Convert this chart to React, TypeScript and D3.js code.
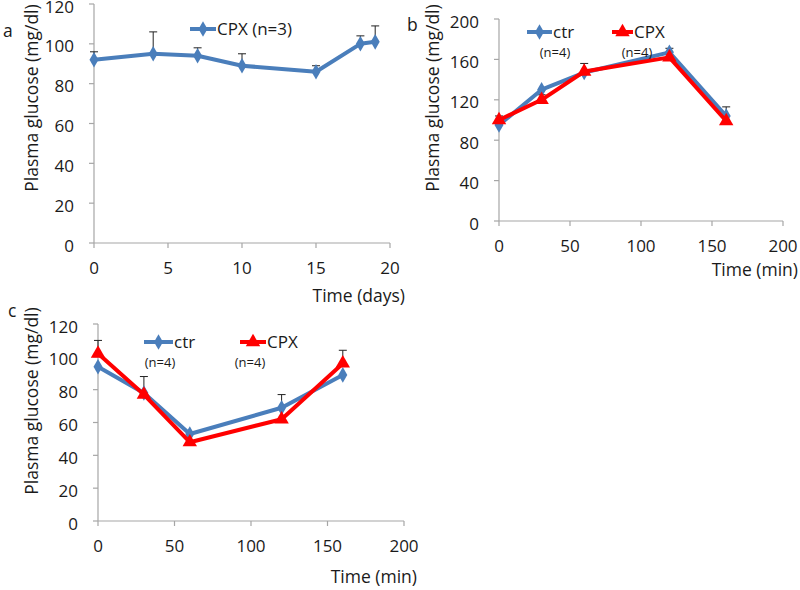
import React from "react";
import * as d3 from "d3";

// ---- Data ----
const daysA = [0, 4, 7, 10, 15, 18, 19];
const cpxA = [92, 95, 94, 89, 86, 100, 101];
const cpxAErr = [4, 11, 4, 6, 3, 4, 8];

const timesB = [0, 30, 60, 120, 160];
const ctrB = [95, 130, 147, 167, 104];
const ctrBErr = [0, 0, 0, 4, 9];
const cpxB = [100, 120, 148, 162, 99];
const cpxBErr = [4, 5, 8, 0, 0];

const timesC = [0, 30, 60, 120, 160];
const ctrC = [94, 78, 53, 69, 89];
const ctrCErr = [0, 10, 0, 8, 0];
const cpxC = [102, 77, 48, 62, 96];
const cpxCErr = [8, 0, 0, 0, 8];

const yTicksA = [0, 20, 40, 60, 80, 100, 120];
const xTicksA = [0, 5, 10, 15, 20];
const yTicksB = [0, 40, 80, 120, 160, 200];
const xTicksB = [0, 50, 100, 150, 200];
const yTicksC = [0, 20, 40, 60, 80, 100, 120];
const xTicksC = [0, 50, 100, 150, 200];

const yTitle = "Plasma glucose (mg/dl)";

const BLUE = "#4A7EBB";
const RED = "#FF0000";
const AXIS = "#A6A6A6";
const FONT = "'Open Sans', Lato, sans-serif";
const TEXT = "#1a1a1a";
const FS = 17;
const FT = 17.5;

type Series = { x: number[]; y: number[]; err: number[]; color: string; kind: "diamond" | "triangle" };

function Marker({ kind, x, y, color }: { kind: string; x: number; y: number; color: string }) {
  const sym = kind === "diamond" ? d3.symbol().type(d3.symbolDiamond).size(70) : d3.symbol().type(d3.symbolTriangle).size(90);
  return <path d={sym() as string} transform={`translate(${x},${y})`} fill={color} />;
}

function Panel(props: {
  xr: [number, number]; yr: [number, number]; xd: [number, number]; yd: [number, number];
  xTicks: number[]; yTicks: number[]; series: Series[]; xTitle: string; xTitleX: number; xTitleY: number;
  yTitleX: number; yTitleY: number; letter: string; letterX: number; letterY: number;
}) {
  const x = d3.scaleLinear().domain(props.xd).range(props.xr);
  const y = d3.scaleLinear().domain(props.yd).range(props.yr);
  const line = d3.line<[number, number]>().x(d => x(d[0])).y(d => y(d[1]));
  const [x0, x1] = props.xr;
  const [y0, y1] = props.yr;
  return (
    <g fontFamily={FONT}>
      <line x1={x0} x2={x0} y1={y0} y2={y1} stroke={AXIS} strokeWidth={1.2} />
      <line x1={x0} x2={x1} y1={y0} y2={y0} stroke={AXIS} strokeWidth={1.2} />
      {props.yTicks.map(t => (
        <g key={"y" + t}>
          <line x1={x0 - 5} x2={x0} y1={y(t)} y2={y(t)} stroke={AXIS} strokeWidth={1.2} />
          <text x={x0 - 20} y={y(t) + 8.5} textAnchor="end" fontSize={FS} fill={TEXT}>{t}</text>
        </g>
      ))}
      {props.xTicks.map(t => (
        <g key={"x" + t}>
          <line x1={x(t)} x2={x(t)} y1={y0} y2={y0 + 5} stroke={AXIS} strokeWidth={1.2} />
          <text x={x(t)} y={y0 + 31} textAnchor="middle" fontSize={FS} fill={TEXT}>{t}</text>
        </g>
      ))}
      <text x={props.xTitleX} y={props.xTitleY} textAnchor="end" fontSize={FT} fill={TEXT}>{props.xTitle}</text>
      <text transform={`translate(${props.yTitleX},${props.yTitleY}) rotate(-90)`} textAnchor="middle" fontSize={FT} fill={TEXT} dy="0.35em">{yTitle}</text>
      <text x={props.letterX} y={props.letterY} fontSize={FT} fill={TEXT}>{props.letter}</text>
      {props.series.map((s, si) => (
        <g key={"e" + si}>
          {s.x.map((xv, i) => s.err[i] > 0 ? (
            <g key={i}>
              <line x1={x(xv)} x2={x(xv)} y1={y(s.y[i])} y2={y(s.y[i] + s.err[i])} stroke="#222" strokeWidth={1} />
              <line x1={x(xv) - 4} x2={x(xv) + 4} y1={y(s.y[i] + s.err[i])} y2={y(s.y[i] + s.err[i])} stroke="#222" strokeWidth={1} />
            </g>
          ) : null)}
        </g>
      ))}
      {props.series.map((s, si) => (
        <g key={"s" + si}>
          <path d={line(s.x.map((xv, i) => [xv, s.y[i]] as [number, number])) as string} fill="none" stroke={s.color} strokeWidth={4} strokeLinejoin="round" />
          {s.x.map((xv, i) => <Marker key={i} kind={s.kind} x={x(xv)} y={y(s.y[i])} color={s.color} />)}
        </g>
      ))}
    </g>
  );
}

function LegendItem({ x1, x2, y, color, kind, label, sub, subX }: { x1: number; x2: number; y: number; color: string; kind: string; label: string; sub?: string; subX?: number }) {
  return (
    <g fontFamily={FONT}>
      <line x1={x1} x2={x2} y1={y} y2={y} stroke={color} strokeWidth={4} />
      <Marker kind={kind} x={(x1 + x2) / 2} y={y} color={color} />
      <text x={x2 + 1} y={y + 6} fontSize={FS} fill={TEXT}>{label}</text>
      {sub ? <text x={subX} y={y + 25} fontSize={13} textAnchor="middle" fill={TEXT}>{sub}</text> : null}
    </g>
  );
}

export default function App() {
  return (
    <svg width={800} height={590} style={{ position: "absolute", left: 0, top: 0, background: "#fff" }}>
      <rect width={800} height={590} fill="#fff" />
      <Panel xr={[94, 390]} yr={[243, 4]} xd={[0, 20]} yd={[0, 120]} xTicks={xTicksA} yTicks={yTicksA}
        series={[{ x: daysA, y: cpxA, err: cpxAErr, color: BLUE, kind: "diamond" }]}
        xTitle="Time (days)" xTitleX={405} xTitleY={302} yTitleX={32} yTitleY={98}
        letter="a" letterX={3} letterY={37} />
      <LegendItem x1={190} x2={216} y={29} color={BLUE} kind="diamond" label="CPX (n=3)" />

      <Panel xr={[499, 783]} yr={[221, 19]} xd={[0, 200]} yd={[0, 200]} xTicks={xTicksB} yTicks={yTicksB}
        series={[
          { x: timesB, y: ctrB, err: ctrBErr, color: BLUE, kind: "diamond" },
          { x: timesB, y: cpxB, err: cpxBErr, color: RED, kind: "triangle" },
        ]}
        xTitle="Time (min)" xTitleX={798} xTitleY={276} yTitleX={433} yTitleY={98}
        letter="b" letterX={407} letterY={31} />
      <LegendItem x1={527} x2={552} y={32} color={BLUE} kind="diamond" label="ctr" sub="(n=4)" subX={555} />
      <LegendItem x1={612} x2={633} y={32} color={RED} kind="triangle" label="CPX" sub="(n=4)" subX={637} />

      <Panel xr={[98, 404]} yr={[521, 324]} xd={[0, 200]} yd={[0, 120]} xTicks={xTicksC} yTicks={yTicksC}
        series={[
          { x: timesC, y: ctrC, err: ctrCErr, color: BLUE, kind: "diamond" },
          { x: timesC, y: cpxC, err: cpxCErr, color: RED, kind: "triangle" },
        ]}
        xTitle="Time (min)" xTitleX={417} xTitleY={583} yTitleX={32} yTitleY={401}
        letter="c" letterX={8} letterY={317} />
      <LegendItem x1={144} x2={173} y={342} color={BLUE} kind="diamond" label="ctr" sub="(n=4)" subX={160} />
      <LegendItem x1={240} x2={266} y={342} color={RED} kind="triangle" label="CPX" sub="(n=4)" subX={250} />
    </svg>
  );
}
